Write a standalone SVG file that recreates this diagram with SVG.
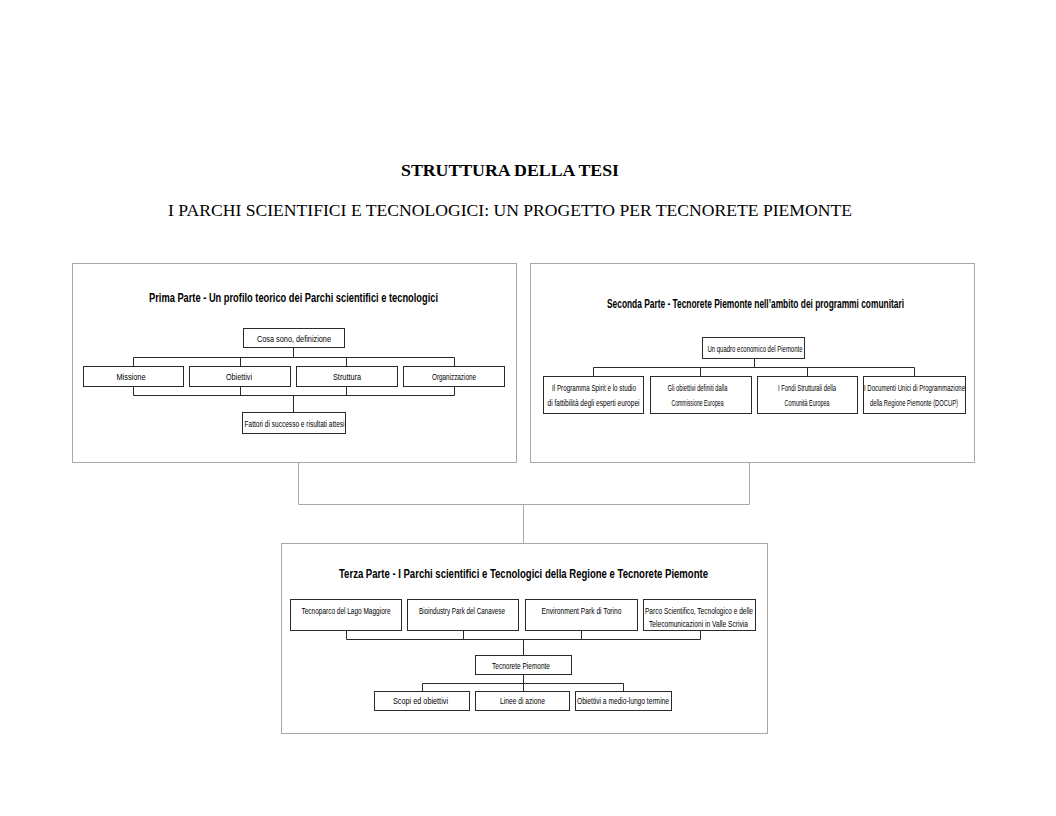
<svg xmlns="http://www.w3.org/2000/svg" width="1056" height="816" viewBox="0 0 1056 816">
<style>
.bg{fill:#ffffff}
.outer{fill:none;stroke:#a8a8a8;stroke-width:1}
.box{fill:#ffffff;stroke:#2a2a2a;stroke-width:1}
.ln{fill:none;stroke:#2a2a2a;stroke-width:1}
.gl{fill:none;stroke:#a8a8a8;stroke-width:1}
.h1{font-family:"Liberation Serif","Times New Roman",serif;font-weight:bold;font-size:17px;fill:#000}
.h2{font-family:"Liberation Serif","Times New Roman",serif;font-size:17px;fill:#000}
.pt{font-family:"Liberation Sans",Arial,sans-serif;font-weight:bold;font-size:12.5px;fill:#000;text-anchor:middle}
.t{font-family:"Liberation Sans",Arial,sans-serif;font-size:9px;fill:#000;text-anchor:middle}
</style>
<rect class="bg" x="0" y="0" width="1056" height="816"/>

<g id="heading">
<text class="h1" x="401" y="176" textLength="218" lengthAdjust="spacingAndGlyphs">STRUTTURA DELLA TESI</text>
<text class="h2" x="168" y="216" textLength="684" lengthAdjust="spacingAndGlyphs">I PARCHI SCIENTIFICI E TECNOLOGICI: UN PROGETTO PER TECNORETE PIEMONTE</text>
</g>

<g id="part1">
<rect class="outer" x="72.5" y="263.5" width="444" height="199"/>
<text class="pt" x="293.5" y="301.5" textLength="289" lengthAdjust="spacingAndGlyphs">Prima Parte - Un profilo teorico dei Parchi scientifici e tecnologici</text>
</g>
<g id="part2">
<rect class="outer" x="530.5" y="263.5" width="444" height="199"/>
<text class="pt" x="755.5" y="307.5" textLength="297" lengthAdjust="spacingAndGlyphs">Seconda Parte - Tecnorete Piemonte nell’ambito dei programmi comunitari</text>
</g>
<g id="part3">
<rect class="outer" x="281.5" y="543.5" width="486" height="190"/>
<text class="pt" x="523.5" y="577.5" textLength="369" lengthAdjust="spacingAndGlyphs">Terza Parte - I Parchi scientifici e Tecnologici della Regione e Tecnorete Piemonte</text>
</g>

<g id="connectors">
<polyline class="gl" points="298.5,462.5 298.5,504.5 749.5,504.5 749.5,462.5"/>
<line class="gl" x1="523.5" y1="504.5" x2="523.5" y2="543.5"/>
<line class="ln" x1="293.5" y1="347.5" x2="293.5" y2="357.5"/>
<line class="ln" x1="133.5" y1="357.5" x2="454.5" y2="357.5"/>
<line class="ln" x1="133.5" y1="357.5" x2="133.5" y2="366.5"/>
<line class="ln" x1="240.5" y1="357.5" x2="240.5" y2="366.5"/>
<line class="ln" x1="346.5" y1="357.5" x2="346.5" y2="366.5"/>
<line class="ln" x1="454.5" y1="357.5" x2="454.5" y2="366.5"/>
<line class="ln" x1="133.5" y1="386.5" x2="133.5" y2="395.5"/>
<line class="ln" x1="240.5" y1="386.5" x2="240.5" y2="395.5"/>
<line class="ln" x1="346.5" y1="386.5" x2="346.5" y2="395.5"/>
<line class="ln" x1="454.5" y1="386.5" x2="454.5" y2="395.5"/>
<line class="ln" x1="133.5" y1="395.5" x2="454.5" y2="395.5"/>
<line class="ln" x1="293.5" y1="395.5" x2="293.5" y2="412.5"/>
<line class="ln" x1="754.5" y1="358.5" x2="754.5" y2="367.5"/>
<line class="ln" x1="593.5" y1="367.5" x2="914.5" y2="367.5"/>
<line class="ln" x1="593.5" y1="367.5" x2="593.5" y2="376.5"/>
<line class="ln" x1="700.5" y1="367.5" x2="700.5" y2="376.5"/>
<line class="ln" x1="807.5" y1="367.5" x2="807.5" y2="376.5"/>
<line class="ln" x1="914.5" y1="367.5" x2="914.5" y2="376.5"/>
<line class="ln" x1="346.5" y1="630.5" x2="346.5" y2="639.5"/>
<line class="ln" x1="463.5" y1="630.5" x2="463.5" y2="639.5"/>
<line class="ln" x1="581.5" y1="630.5" x2="581.5" y2="639.5"/>
<line class="ln" x1="700.5" y1="630.5" x2="700.5" y2="639.5"/>
<line class="ln" x1="346.5" y1="639.5" x2="700.5" y2="639.5"/>
<line class="ln" x1="523.5" y1="639.5" x2="523.5" y2="655.5"/>
<line class="ln" x1="523.5" y1="674.5" x2="523.5" y2="683.5"/>
<line class="ln" x1="422.5" y1="683.5" x2="623.5" y2="683.5"/>
<line class="ln" x1="422.5" y1="683.5" x2="422.5" y2="691.5"/>
<line class="ln" x1="523.5" y1="683.5" x2="523.5" y2="691.5"/>
<line class="ln" x1="623.5" y1="683.5" x2="623.5" y2="691.5"/>
</g>

<g id="p1-cosa">
<rect class="box" x="243.5" y="328.5" width="101" height="19"/>
<text class="t" x="294" y="341.5" textLength="74" lengthAdjust="spacingAndGlyphs">Cosa sono, definizione</text>
</g>
<g id="p1-missione">
<rect class="box" x="83.5" y="366.5" width="100" height="20"/>
<text class="t" x="131" y="380" textLength="29" lengthAdjust="spacingAndGlyphs">Missione</text>
</g>
<g id="p1-obiettivi">
<rect class="box" x="189.5" y="366.5" width="101" height="20"/>
<text class="t" x="239" y="380" textLength="26" lengthAdjust="spacingAndGlyphs">Obiettivi</text>
</g>
<g id="p1-struttura">
<rect class="box" x="296.5" y="366.5" width="101" height="20"/>
<text class="t" x="347" y="380" textLength="28" lengthAdjust="spacingAndGlyphs">Struttura</text>
</g>
<g id="p1-organizzazione">
<rect class="box" x="403.5" y="366.5" width="101" height="20"/>
<text class="t" x="454" y="380" textLength="44" lengthAdjust="spacingAndGlyphs">Organizzazione</text>
</g>
<g id="p1-fattori">
<rect class="box" x="242.5" y="412.5" width="103" height="21"/>
<text class="t" x="294.5" y="427" textLength="100" lengthAdjust="spacingAndGlyphs">Fattori di successo e risultati attesi</text>
</g>

<g id="p2-quadro">
<rect class="box" x="702.5" y="337.5" width="102" height="21"/>
<text class="t" x="755" y="351.5" textLength="95" lengthAdjust="spacingAndGlyphs">Un quadro economico del Piemonte</text>
</g>
<g id="p2-spirit">
<rect class="box" x="543.5" y="376.5" width="100" height="37"/>
<text class="t" x="594" y="391" textLength="84" lengthAdjust="spacingAndGlyphs">Il Programma Spirit e lo studio</text>
<text class="t" x="593.5" y="406" textLength="92" lengthAdjust="spacingAndGlyphs">di fattibilità degli esperti europei</text>
</g>
<g id="p2-obiettivi">
<rect class="box" x="650.5" y="376.5" width="101" height="37"/>
<text class="t" x="697.5" y="391" textLength="60" lengthAdjust="spacingAndGlyphs">Gli obiettivi definiti dalla</text>
<text class="t" x="697.5" y="406" textLength="52" lengthAdjust="spacingAndGlyphs">Commissione Europea</text>
</g>
<g id="p2-fondi">
<rect class="box" x="757.5" y="376.5" width="100" height="37"/>
<text class="t" x="807" y="391" textLength="58" lengthAdjust="spacingAndGlyphs">I Fondi Strutturali della</text>
<text class="t" x="807" y="406" textLength="45" lengthAdjust="spacingAndGlyphs">Comunità Europea</text>
</g>
<g id="p2-docup">
<rect class="box" x="863.5" y="376.5" width="102" height="37"/>
<text class="t" x="914.5" y="391" textLength="101" lengthAdjust="spacingAndGlyphs">I Documenti Unici di Programmazione</text>
<text class="t" x="914" y="406" textLength="88" lengthAdjust="spacingAndGlyphs">della Regione Piemonte (DOCUP)</text>
</g>

<g id="p3-tecnoparco">
<rect class="box" x="290.5" y="599.5" width="111" height="31"/>
<text class="t" x="346" y="614" textLength="89" lengthAdjust="spacingAndGlyphs">Tecnoparco del Lago Maggiore</text>
</g>
<g id="p3-bioindustry">
<rect class="box" x="407.5" y="599.5" width="111" height="31"/>
<text class="t" x="462" y="614" textLength="86" lengthAdjust="spacingAndGlyphs">Bioindustry Park del Canavese</text>
</g>
<g id="p3-environment">
<rect class="box" x="525.5" y="599.5" width="112" height="31"/>
<text class="t" x="581.5" y="614" textLength="80" lengthAdjust="spacingAndGlyphs">Environment Park di Torino</text>
</g>
<g id="p3-scrivia">
<rect class="box" x="643.5" y="599.5" width="112" height="31"/>
<text class="t" x="699" y="614" textLength="108" lengthAdjust="spacingAndGlyphs">Parco Scientifico, Tecnologico e delle</text>
<text class="t" x="698.5" y="626.5" textLength="99" lengthAdjust="spacingAndGlyphs">Telecomunicazioni in Valle Scrivia</text>
</g>
<g id="p3-tecnorete">
<rect class="box" x="475.5" y="655.5" width="96" height="19"/>
<text class="t" x="521" y="668.5" textLength="58" lengthAdjust="spacingAndGlyphs">Tecnorete Piemonte</text>
</g>
<g id="p3-scopi">
<rect class="box" x="374.5" y="691.5" width="95" height="19"/>
<text class="t" x="420.5" y="704" textLength="55" lengthAdjust="spacingAndGlyphs">Scopi ed obiettivi</text>
</g>
<g id="p3-linee">
<rect class="box" x="475.5" y="691.5" width="94" height="19"/>
<text class="t" x="522.5" y="704" textLength="45" lengthAdjust="spacingAndGlyphs">Linee di azione</text>
</g>
<g id="p3-medio">
<rect class="box" x="575.5" y="691.5" width="96" height="19"/>
<text class="t" x="623" y="704" textLength="92" lengthAdjust="spacingAndGlyphs">Obiettivi a medio-lungo termine</text>
</g>
</svg>
